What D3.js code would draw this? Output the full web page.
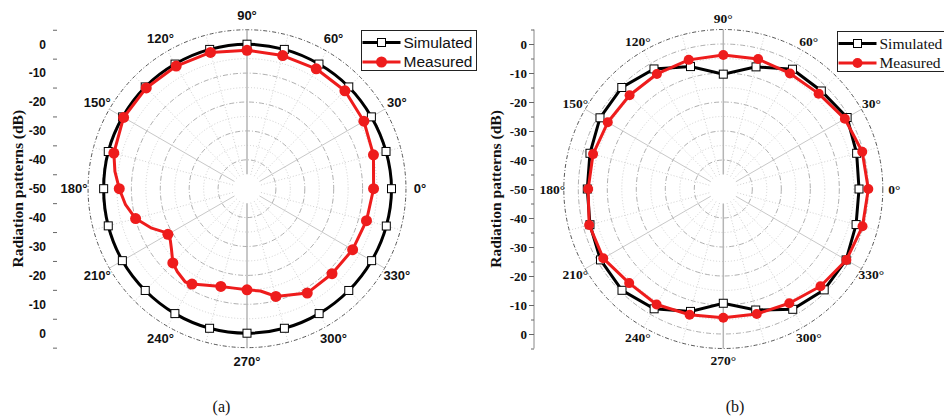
<!DOCTYPE html>
<html>
<head>
<meta charset="utf-8">
<script src="https://cdn.jsdelivr.net/npm/d3@7"></script>
<style>
  body { margin: 0; background: #fff; }
  svg { display: block; }
</style>
</head>
<body>
<svg id="chart" width="944" height="416"></svg>
<script>
// marker angles, degrees counter-clockwise from 0° (right)
const markerAngles = [0, 15, 30, 45, 60, 75, 90, 105, 120, 135, 150, 165,
                      180, 195, 210, 225, 240, 255, 270, 285, 300, 315, 330, 345];

// (a) simulated pattern, dB
const simA = [0, -0.2, -0.3, -0.2, -0.2, -0.1, 0, -0.1, -0.2, -0.2, -0.3, -0.3,
              -0.4, -0.3, -0.2, -0.2, -0.1, 0, 0, 0, -0.1, -0.2, -0.2, -0.1];
// (a) measured pattern at the marker angles, dB
const measA = [-6.2, -4.7, -3.3, -2.1, -2.1, -2.3, -2.1, -1.2, -1.0, -0.7, -0.7, -2.3,
               -5.8, -10.1, -18.4, -13.7, -11.9, -15.0, -15.0, -11.4, -8.3, -8.4, -7.8, -7.2];
// (a) measured trace, extra points between markers
const measAExtraAngles = [172.5, 187.5, 202.5, 207, 214, 219, 230, 236.5, 247.5, 262.5, 277.5, 281.5];
const measAExtra = [-3.9, -7.6, -14.3, -17.3, -18.0, -16.4, -12.5, -11.3, -13.8, -15.3, -14.3, -12.9];

// (b) simulated / measured, dB
const simB = [-3.2, -2.4, -0.7, -2.2, -2.3, -6.4, -10.4, -6.3, -2.2, -0.5, -0.9, -2.4,
              -3.1, -2.4, -1.1, -0.6, -2.3, -6.3, -10.6, -6.8, -2.1, -0.8, -1.1, -2.6];
const measB = [0, -0.4, -1.6, -3.5, -4.0, -3.6, -3.8, -3.9, -4.2, -4.3, -4.0, -3.5,
               -3.4, -2.1, -2.2, -4.1, -4.0, -5.1, -5.6, -5.4, -4.5, -2.6, -1.0, -0.3];

const angleLabels = [0, 30, 60, 90, 120, 150, 180, 210, 240, 270, 300, 330];
// labels of the left scale, top to bottom
const dbTickLabels = [0, -10, -20, -30, -40, -50, -40, -30, -20, -10, 0];
const legendNames = ["Simulated", "Measured"];
const captions = ["(a)", "(b)"];

const RED = "#ee1c1c";
const SANS = "'Liberation Sans', Arial, sans-serif";
const SERIF = "'Liberation Serif', 'Times New Roman', serif";

const svg = d3.select("#chart");
svg.append("rect").attr("width", 944).attr("height", 416).attr("fill", "#fff");

const toPoints = (angles, values) => angles.map((a, i) => ({ a: a, v: values[i] }));

const drawPolar = (cfg, sim, measTrace, measMarks) => {
    const g = svg.append("g");
    const r = d3.scaleLinear().domain([-50, 5]).range([0, cfg.r0 * 55 / 50]);
    const rad = (a) => (90 - a) * Math.PI / 180;
    const px = (a, v) => cfg.cx + r(v) * Math.cos(a * Math.PI / 180);
    const py = (a, v) => cfg.cy - r(v) * Math.sin(a * Math.PI / 180);

    // grid rings
    g.selectAll(".minorRing")
        .data([-35, -25, -15, -5])
        .join("circle")
        .attr("cx", cfg.cx).attr("cy", cfg.cy)
        .attr("r", d => r(d))
        .attr("fill", "none")
        .attr("stroke", "#c4c4c4")
        .attr("stroke-width", 0.8)
        .attr("stroke-dasharray", "1,2");

    g.selectAll(".majorRing")
        .data([-40, -30, -20, -10, 0])
        .join("circle")
        .attr("cx", cfg.cx).attr("cy", cfg.cy)
        .attr("r", d => r(d))
        .attr("fill", "none")
        .attr("stroke", "#9a9a9a")
        .attr("stroke-width", 0.8)
        .attr("stroke-dasharray", "5,2,1,2");

    g.append("circle")
        .attr("cx", cfg.cx).attr("cy", cfg.cy)
        .attr("r", r(5))
        .attr("fill", "none")
        .attr("stroke", "#444")
        .attr("stroke-width", 0.9)
        .attr("stroke-dasharray", "4,2,1,2");

    // spokes
    const spokes = d3.range(0, 360, 15).filter(a => a !== 0 && a !== 180);
    g.selectAll(".spoke")
        .data(spokes)
        .join("line")
        .attr("x1", a => px(a, -45)).attr("y1", a => py(a, -45))
        .attr("x2", a => px(a, 5)).attr("y2", a => py(a, 5))
        .attr("stroke", a => a % 90 === 0 ? "#b5b5b5" : (a % 30 === 0 && a % 60 !== 0 ? "#c8c8c8" : "#d2d2d2"))
        .attr("stroke-width", a => a % 90 === 0 ? 1.5 : 1)
        .attr("stroke-dasharray", a => a % 30 === 0 && a % 60 !== 0 || a % 90 === 0 ? null : "1,2");

    // angle labels
    g.selectAll(".angLabel")
        .data(angleLabels)
        .join("text")
        .attr("x", a => cfg.cx + cfg.labelR * Math.cos(a * Math.PI / 180))
        .attr("y", a => cfg.cy - cfg.labelR * Math.sin(a * Math.PI / 180))
        .attr("dy", "0.35em")
        .attr("text-anchor", "middle")
        .attr("font-family", cfg.font)
        .attr("font-weight", "bold")
        .attr("font-size", cfg.angFont)
        .attr("fill", "#111")
        .text(a => a + "°");

    // left dB scale: u is distance from the centre in dB, top positive
    const y = d3.scaleLinear().domain([55, -55]).range([cfg.cy - r(5), cfg.cy + r(5)]);
    const majors = d3.range(50, -51, -10);
    const fmt = (u) => dbTickLabels[majors.indexOf(u)];

    const axisG = g.append("g").attr("transform", `translate(${cfg.axisX},0)`);
    if (cfg.axisLine) {
        axisG.append("line")
            .attr("y1", y(55)).attr("y2", y(-55))
            .attr("stroke", "#888").attr("stroke-width", 1);
        axisG.append("g")
            .call(d3.axisLeft(y).tickValues(majors).tickSize(5).tickPadding(2).tickFormat(fmt))
            .call(a => a.select(".domain").remove());
    } else {
        axisG.append("g")
            .call(d3.axisLeft(y).tickValues(majors).tickSize(0).tickPadding(cfg.tickPad).tickFormat(fmt))
            .call(a => a.select(".domain").remove());
    }
    axisG.append("g")
        .call(d3.axisLeft(y).tickValues(d3.range(55, -56, -10)).tickSize(cfg.minorSize).tickFormat(""))
        .call(a => a.select(".domain").remove());
    axisG.selectAll(".tick line").attr("stroke", "#666");
    axisG.selectAll("text")
        .attr("font-family", cfg.font)
        .attr("font-weight", "bold")
        .attr("font-size", cfg.tickFont)
        .attr("fill", "#111");

    g.append("text")
        .attr("transform", `translate(${cfg.titleX},${cfg.cy}) rotate(-90)`)
        .attr("text-anchor", "middle")
        .attr("dy", "0.35em")
        .attr("font-family", SERIF)
        .attr("font-weight", "bold")
        .attr("font-size", 15.5)
        .attr("fill", "#111")
        .text("Radiation patterns (dB)");

    const line = d3.lineRadial()
        .angle(d => rad(d.a))
        .radius(d => r(d.v))
        .curve(d3.curveLinearClosed);

    const plot = g.append("g").attr("transform", `translate(${cfg.cx},${cfg.cy})`);

    // simulated
    plot.append("path")
        .datum(sim)
        .attr("fill", "none")
        .attr("stroke", "#000")
        .attr("stroke-width", 3)
        .attr("d", cfg.smoothSim ? line.curve(d3.curveCardinalClosed)(sim) : line(sim));
    line.curve(d3.curveLinearClosed);

    plot.selectAll(".sq")
        .data(sim)
        .join("rect")
        .attr("x", d => r(d.v) * Math.cos(d.a * Math.PI / 180) - 4)
        .attr("y", d => -r(d.v) * Math.sin(d.a * Math.PI / 180) - 4)
        .attr("width", 8).attr("height", 8)
        .attr("fill", "#fff")
        .attr("stroke", "#000")
        .attr("stroke-width", 1);

    // measured
    plot.append("path")
        .datum(measTrace)
        .attr("fill", "none")
        .attr("stroke", RED)
        .attr("stroke-width", 3)
        .attr("stroke-linejoin", "round")
        .attr("d", line);

    plot.selectAll(".dot")
        .data(measMarks)
        .join("circle")
        .attr("cx", d => r(d.v) * Math.cos(d.a * Math.PI / 180))
        .attr("cy", d => -r(d.v) * Math.sin(d.a * Math.PI / 180))
        .attr("r", cfg.dotR)
        .attr("fill", RED);

    // legend
    const lg = g.append("g").attr("transform", `translate(${cfg.legX},${cfg.legY})`);
    lg.append("rect")
        .attr("width", cfg.legW).attr("height", 40)
        .attr("fill", "#fff")
        .attr("stroke", "#222").attr("stroke-width", 1);
    legendNames.forEach((name, i) => {
        const ly = 12 + i * 19.5;
        lg.append("line")
            .attr("x1", 1).attr("x2", 39).attr("y1", ly).attr("y2", ly)
            .attr("stroke", i === 0 ? "#000" : RED).attr("stroke-width", 3);
        if (i === 0) {
            lg.append("rect").attr("x", 16).attr("y", ly - 4).attr("width", 8).attr("height", 8)
                .attr("fill", "#fff").attr("stroke", "#000");
        } else {
            lg.append("circle").attr("cx", 20).attr("cy", ly).attr("r", cfg.dotR).attr("fill", RED);
        }
        lg.append("text")
            .attr("x", 42).attr("y", ly).attr("dy", "0.35em")
            .attr("font-family", cfg.legFont)
            .attr("font-size", cfg.legSize)
            .attr("fill", "#111")
            .text(name);
    });

    svg.append("text")
        .attr("x", cfg.capX).attr("y", 406).attr("dy", "0.35em")
        .attr("text-anchor", "middle")
        .attr("font-family", SERIF)
        .attr("font-size", 16)
        .attr("fill", "#111")
        .text(cfg.caption);
};

// (a)
const traceA = toPoints(markerAngles, measA)
    .concat(toPoints(measAExtraAngles, measAExtra))
    .sort((p, q) => p.a - q.a);

drawPolar({
    cx: 247, cy: 188.7, r0: 144.5, labelR: 173,
    font: SANS, angFont: 13, tickFont: 12,
    axisX: 57, axisLine: false, tickPad: 11, minorSize: 4,
    titleX: 17.5,
    smoothSim: true, dotR: 5.5,
    legX: 361.5, legY: 30.5, legW: 115, legFont: SANS, legSize: 15.5,
    capX: 221.5, caption: captions[0]
}, toPoints(markerAngles, simA), traceA, toPoints(markerAngles, measA));

// (b)
drawPolar({
    cx: 723.3, cy: 189, r0: 145, labelR: 171,
    font: SERIF, angFont: 13.5, tickFont: 13,
    axisX: 534, axisLine: true, tickPad: 2, minorSize: 3,
    titleX: 496,
    smoothSim: false, dotR: 5,
    legX: 837.5, legY: 31.5, legW: 130, legFont: SERIF, legSize: 15.5,
    capX: 735, caption: captions[1]
}, toPoints(markerAngles, simB), toPoints(markerAngles, measB), toPoints(markerAngles, measB));
</script>
</body>
</html>
